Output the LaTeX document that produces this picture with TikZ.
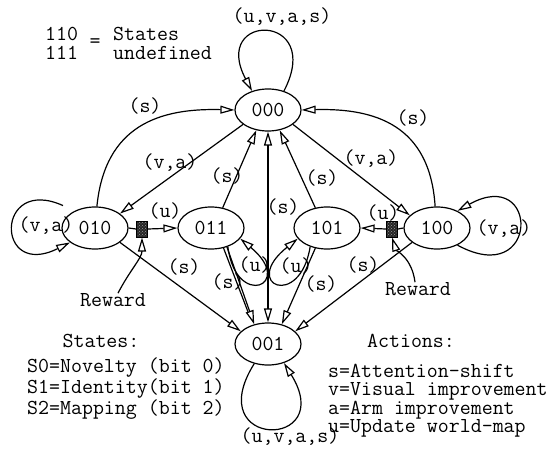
\documentclass[tikz,border=0pt]{standalone}
\usepackage{fontspec}
\usetikzlibrary{arrows.meta,shapes.geometric,calc,patterns}
\begin{document}
\begin{tikzpicture}[x=1pt,y=-1pt,
  every node/.style={font=\ttfamily\fontsize{21.3}{17.5}\selectfont, inner sep=0pt},
  state/.style={ellipse, draw, line width=1.2pt, minimum width=66pt, minimum height=42pt},
  gate/.style={rectangle, draw, line width=1pt, minimum width=11pt, minimum height=16pt,
    preaction={fill=black!85}, pattern=crosshatch dots, pattern color=gray!80},
  link/.style={line width=1.2pt},
  tip/.style={-{Triangle[open, length=14pt, width=8pt]}},
  arr/.style={link, tip},
  darr/.style={link, {Triangle[open, length=14pt, width=8pt]}-{Triangle[open, length=14pt, width=8pt]}},
]
\useasboundingbox (0,0) rectangle (553,449);

% states
\node[state] (n000) at (268,110) {000};
\node[state] (n010) at (95,228)  {010};
\node[state] (n011) at (211,228) {011};
\node[state] (n101) at (327,228) {101};
\node[state] (n100) at (437,228) {100};
\node[state] (n001) at (268,344) {001};

% reward gates
\node[gate] (gl) at (142,229) {};
\node[gate] (gr) at (392,229) {};
\node (rwl) at (113,300) {Reward};
\node (rwr) at (418,289) {Reward};

% notes
\node[anchor=west] (undef) at (45,46) {\begin{tabular}{@{}l@{}}110\\111\end{tabular}};
\node (eq) at (95,43) {=};
\node[anchor=west] (undeft) at (113,46) {\begin{tabular}{@{}l@{}}States\\undefined\end{tabular}};

\node (stt) at (101,341) {States:};
\node[anchor=north west, align=left] (slist) at (27,358)
  {S0=Novelty (bit 0)\\S1=Identity(bit 1)\\S2=Mapping (bit 2)};
\node (act) at (411,341) {Actions:};
\node[anchor=north west, align=left] (alist) at (328,364)
  {s=Attention-shift\\v=Visual improvement\\a=Arm improvement\\u=Update world-map};

% self loops
\draw[arr] (n000.50) .. controls (325,12) and (210,12) .. (n000.130);
\node (l000) at (282,17) {(u,v,a,s)};
\draw[arr] ($(n010.150)+(-7,-8)$) .. controls (-5,175) and (-5,280) .. (n010.210);
\node (l010) at (46,226) {(v,a)};
\draw[arr] (n100.320) .. controls (540,290) and (540,165) .. (n100.40);
\node (l100) at (504,229) {(v,a)};
\draw[arr] (n001.235) .. controls (200,450) and (338,450) .. (n001.310);
\node (l001) at (290,437) {(u,v,a,s)};
\draw[arr] (n011.312) .. controls (236,310) and (296,285) .. (n011.340);
\node (l011) at (255,265) {(u)};
\draw[arr] (n101.228) .. controls (300,310) and (240,285) .. (n101.200);
\node (l101) at (296,266) {(u)};

% attention shifts back to 000
\draw[arr] (n010.85) .. controls (105,125) and (160,108) .. (n000.west);
\node (s1) at (145,106) {(s)};
\draw[arr] (n100.95) .. controls (430,125) and (375,108) .. (n000.east);
\node (s2) at (413,118) {(s)};
\draw[arr] (n011.60) -- (n000.240);
\node (s3) at (227,176) {(s)};
\draw[arr] (n101.120) -- (n000.300);
\node (s4) at (322,178) {(s)};
\draw[darr] (n000.south) -- (n001.north);
\node (s5) at (283,207) {(s)};

% improvements from 000
\draw[arr] (n000.210) -- (n010.30);
\node (va1) at (170,163) {(v,a)};
\draw[arr] (n000.330) -- (n100.155);
\node (va2) at (371,159) {(v,a)};

% world-map updates through the gates
\draw[link] (n010.east) -- (gl.west);
\draw[arr] (gl.east) -- (n011.west);
\node (u1) at (165,211) {(u)};
\draw[link] (n100.west) -- (gr.east);
\draw[arr] (gr.west) -- (n101.east);
\node (u2) at (383,213) {(u)};
\draw[arr] ([xshift=5pt]rwl.north) .. controls (130,270) and (142,258) .. (gl.south);
\draw[arr] ([xshift=-3pt]rwr.north) .. controls (412,258) and (396,250) .. (gr.south);

% attention shifts into 001
\draw[arr] (n010.330) -- (n001.155);
\node (s6) at (184,267) {(s)};
\draw[arr] (n100.210) -- (n001.25);
\node (s7) at (363,265) {(s)};
\draw[arr] (n011.310) -- (n001.125);
\draw[link, shorten >=14pt] (n011.302) -- (n001.128);
\node (s8) at (228,282) {(s)};
\draw[arr] (n101.240) -- (n001.55);
\node (s9) at (321,284) {(s)};
\end{tikzpicture}
\end{document}
